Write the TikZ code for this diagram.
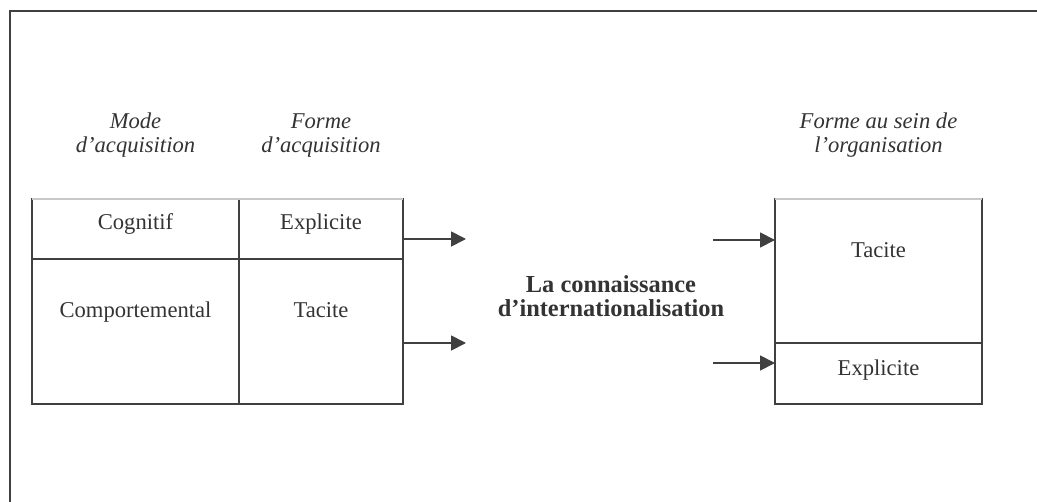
\documentclass[tikz,border=0pt]{standalone}
\usepackage{fontspec}
\setmainfont{Liberation Serif}
\usetikzlibrary{positioning,arrows.meta}
\definecolor{ink}{HTML}{333333}
\definecolor{rule}{HTML}{404040}
\definecolor{faint}{HTML}{C8C8C8}

\begin{document}
\begin{tikzpicture}[x=0.5pt,y=-0.5pt,inner sep=0pt,outer sep=0pt,
   every node/.style={text=ink,font=\fontsize{11.3}{12}\selectfont},
   cell/.style={draw=rule,line width=0.9pt,anchor=north west},
   head/.style={font=\fontsize{11.3}{12}\selectfont\itshape,align=center,anchor=base},
   celltext/.style={anchor=base},
   flow/.style={draw=rule,line width=0.9pt,-{Triangle[length=7.5pt,width=7.5pt]}}]
   \useasboundingbox (0,0) rectangle (1037,502);
   % frame, open on the right and at the bottom
   \draw[rule,line width=1pt] (1040,11) -- (10,11) -- (10,505);

   % left table
   \node[cell,minimum width=103.5pt,minimum height=30pt] (cog) at (32,199) {};
   \node[cell,minimum width=82pt,minimum height=30pt] (expl) [right=0pt of cog] {};
   \node[cell,minimum width=103.5pt,minimum height=72.5pt] (comp) [below=0pt of cog] {};
   \node[cell,minimum width=82pt,minimum height=72.5pt] (tac) [right=0pt of comp] {};
   \draw[faint,line width=0.9pt] (cog.north west) -- (expl.north east);

   % right table
   \node[cell,minimum width=103.5pt,minimum height=72pt] (otac) at (775,199) {};
   \node[cell,minimum width=103.5pt,minimum height=30.5pt] (oexp) [below=0pt of otac] {};
   \draw[faint,line width=0.9pt] (otac.north west) -- (otac.north east);

   % headings (base = last line)
   \node[head] (hmode) at ([yshift=23pt]cog.north) {Mode\\d’acquisition};
   \node[head] (hforme) at ([yshift=23pt]expl.north) {Forme\\d’acquisition};
   \node[head] (horg) at ([yshift=23pt]otac.north) {Forme au sein de\\l’organisation};

   % cell texts
   \node[celltext] (tcog) at ([yshift=-15pt]cog.north) {Cognitif};
   \node[celltext] (texpl) at ([yshift=-15pt]expl.north) {Explicite};
   \node[celltext] (tcomp) at ([yshift=-29pt]comp.north) {Comportemental};
   \node[celltext] (ttac) at ([yshift=-29pt]tac.north) {Tacite};
   \node[celltext] (totac) at ([yshift=-29pt]otac.north) {Tacite};
   \node[celltext] (toexp) at ([yshift=-16pt]oexp.north) {Explicite};

   \node[align=center,font=\fontsize{12.2}{12}\selectfont\bfseries] (know) at (611,296)
      {La connaissance\\d’internationalisation};

   \coordinate (inA) at (466,239);
   \coordinate (inB) at (466,343);
   \coordinate (outA) at (713,240);
   \coordinate (outB) at (713,363);

   \draw[flow] ([yshift=-5pt]expl.east) -- (inA);
   \draw[flow] ([yshift=-5.75pt]tac.east) -- (inB);
   \draw[flow] (outA) -- (otac.west |- outA);
   \draw[flow] (outB) -- (oexp.west |- outB);
\end{tikzpicture}
\end{document}
